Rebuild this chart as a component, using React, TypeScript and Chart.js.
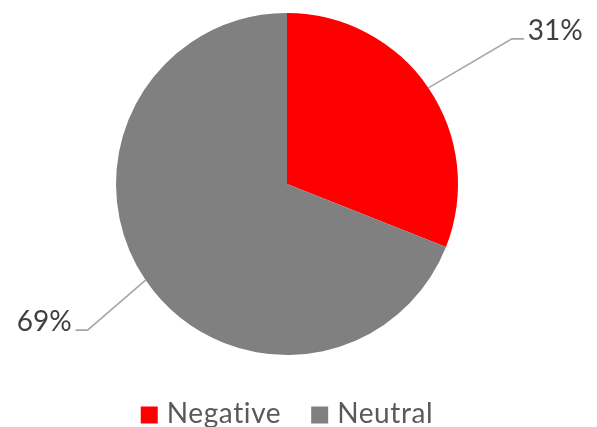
import React, { useEffect, useRef } from "react";
import { Chart, registerables } from "chart.js";

Chart.register(...registerables);

const categories = ["Negative", "Neutral"];
const values = [31, 69];
const percentLabels = ["31%", "69%"];
const colors = ["#FF0000", "#808080"];

const FONT = "Lato, 'Open Sans', sans-serif";

const labelPlugin = {
  id: "leaderLabels",
  afterDatasetsDraw(chart: any) {
    const ctx = chart.ctx;
    const meta = chart.getDatasetMeta(0);
    const xFactor = [1.59, 1.41];
    const yFactor = [1.51, 1.52];
    ctx.save();
    meta.data.forEach((arc: any, i: number) => {
      const { x, y, startAngle, endAngle, outerRadius } = arc.getProps(
        ["x", "y", "startAngle", "endAngle", "outerRadius"],
        true
      );
      const mid = (startAngle + endAngle) / 2;
      const c = Math.cos(mid);
      const s = Math.sin(mid);
      const p0x = x + c * outerRadius;
      const p0y = y + s * outerRadius;
      const ex = x + c * outerRadius * xFactor[i];
      const ey = y + s * outerRadius * yFactor[i];
      const right = c >= 0;
      const hx = ex + (right ? 12 : -12);
      ctx.strokeStyle = "#A6A6A6";
      ctx.lineWidth = 1.6;
      ctx.beginPath();
      ctx.moveTo(p0x, p0y);
      ctx.lineTo(ex, ey);
      ctx.lineTo(hx, ey);
      ctx.stroke();
      ctx.fillStyle = "#404040";
      ctx.font = `28px ${FONT}`;
      ctx.textBaseline = "alphabetic";
      ctx.textAlign = right ? "left" : "right";
      ctx.fillText(percentLabels[i], hx + (right ? 4 : -4), ey + 1);
    });
    ctx.restore();
  },
};

const legendPlugin = {
  id: "bottomLegend",
  afterDraw(chart: any) {
    const ctx = chart.ctx;
    const meta = chart.getDatasetMeta(0);
    const cx = meta.data[0].x;
    const box = 17;
    const gapText = 9;
    const gapItem = 30;
    ctx.save();
    ctx.font = `28px ${FONT}`;
    (ctx as any).letterSpacing = "0.6px";
    const widths = categories.map((t) => ctx.measureText(t).width);
    let total = 0;
    widths.forEach((w, i) => {
      total += box + gapText + w + (i < widths.length - 1 ? gapItem : 0);
    });
    let xPos = cx - total / 2;
    const cy = 414;
    categories.forEach((t, i) => {
      ctx.fillStyle = colors[i];
      ctx.fillRect(xPos, cy - box / 2 + 1, box, box);
      ctx.fillStyle = "#595959";
      ctx.textAlign = "left";
      ctx.textBaseline = "middle";
      ctx.fillText(t, xPos + box + gapText, cy);
      xPos += box + gapText + widths[i] + gapItem;
    });
    ctx.restore();
  },
};

export default function App() {
  const ref = useRef<HTMLCanvasElement | null>(null);
  useEffect(() => {
    document.body.style.margin = "0";
    const chart = new Chart(ref.current as HTMLCanvasElement, {
      type: "pie",
      data: {
        labels: categories,
        datasets: [
          {
            data: values,
            backgroundColor: colors,
            borderWidth: 0,
          },
        ],
      },
      options: {
        animation: false,
        responsive: false,
        layout: { padding: { top: 13, bottom: 72, left: 0, right: 23 } },
        plugins: {
          legend: { display: false },
          tooltip: { enabled: false },
        },
      },
      plugins: [labelPlugin, legendPlugin],
    });
    return () => chart.destroy();
  }, []);
  return (
    <div style={{ width: 597, height: 427 }}>
      <canvas ref={ref} width={597} height={427} style={{ display: "block" }} />
    </div>
  );
}
